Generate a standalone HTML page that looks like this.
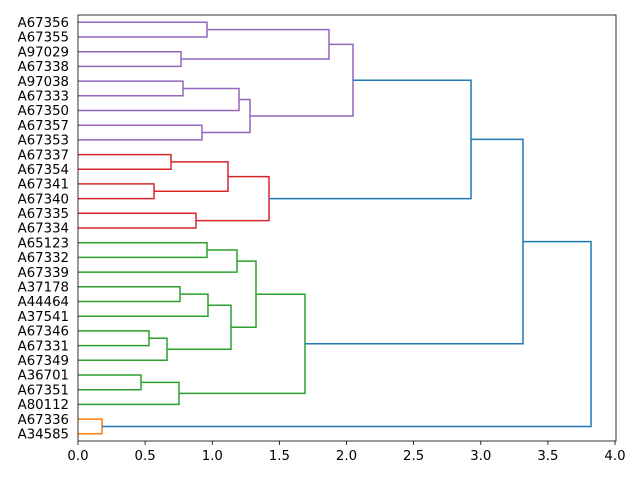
<!DOCTYPE html>
<html><head><meta charset="utf-8"><style>
body{margin:0;background:#fff}
svg text{font-family:"DejaVu Sans","Liberation Sans",sans-serif;font-size:13.3px;fill:#000}
</style></head><body>
<svg width="640" height="480" xmlns="http://www.w3.org/2000/svg">
<rect width="640" height="480" fill="#fff"/>
<g fill="none" stroke-width="1.5">
<g stroke="#9467bd">
<path d="M78 22.3H207V37H78"/>
<path d="M78 51.7H181V66.4H78"/>
<path d="M207 29.65H329V59.05H181"/>
<path d="M78 81.1H183V95.8H78"/>
<path d="M183 88.45H239V110.5H78"/>
<path d="M78 125.2H202V139.9H78"/>
<path d="M239 99.48H250V132.55H202"/>
<path d="M329 44.35H353V116H250"/>
</g>
<g stroke="#d62728">
<path d="M78 154.6H171V169.2H78"/>
<path d="M78 183.9H154V198.6H78"/>
<path d="M171 161.9H228V191.25H154"/>
<path d="M78 213.3H196V228H78"/>
<path d="M228 176.6H269V220.65H196"/>
</g>
<g stroke="#2ca02c">
<path d="M78 242.7H207V257.4H78"/>
<path d="M207 250.05H237V272.1H78"/>
<path d="M78 286.8H180V301.5H78"/>
<path d="M180 294.15H208V316.2H78"/>
<path d="M78 330.9H149V345.6H78"/>
<path d="M149 338.25H167V360.3H78"/>
<path d="M208 305.2H231V349.3H167"/>
<path d="M237 261.1H256V327.25H231"/>
<path d="M78 375H141V389.7H78"/>
<path d="M141 382.35H179V404.4H78"/>
<path d="M256 294.2H305V393.4H179"/>
</g>
<path stroke="#ff7f0e" d="M78 419.1H102V433.8H78"/>
<g stroke="#1f77b4">
<path d="M353 80.2H471V198.6H269"/>
<path d="M471 139.4H523V343.8H305"/>
<path d="M523 241.6H591V426.45H102"/>
</g>
</g>
<rect x="78" y="15" width="538" height="426" fill="none" stroke="#000" stroke-width="0.8"/>
<g stroke="#000" stroke-width="0.8">
<path d="M78 441v4M145.1 441v4M212.3 441v4M279.4 441v4M346.5 441v4M413.6 441v4M480.8 441v4M547.9 441v4M615 441v4"/>
</g>
<g text-anchor="middle">
<text x="78" y="460">0.0</text><text x="145.1" y="460">0.5</text><text x="212.3" y="460">1.0</text><text x="279.4" y="460">1.5</text><text x="346.5" y="460">2.0</text><text x="413.6" y="460">2.5</text><text x="480.8" y="460">3.0</text><text x="547.9" y="460">3.5</text><text x="615" y="460">4.0</text>
</g>
<g text-anchor="end">
<text x="69" y="27">A67356</text>
<text x="69" y="41.7">A67355</text>
<text x="69" y="56.4">A97029</text>
<text x="69" y="71.1">A67338</text>
<text x="69" y="85.8">A97038</text>
<text x="69" y="100.5">A67333</text>
<text x="69" y="115.2">A67350</text>
<text x="69" y="129.9">A67357</text>
<text x="69" y="144.6">A67353</text>
<text x="69" y="159.3">A67337</text>
<text x="69" y="173.9">A67354</text>
<text x="69" y="188.6">A67341</text>
<text x="69" y="203.3">A67340</text>
<text x="69" y="218">A67335</text>
<text x="69" y="232.7">A67334</text>
<text x="69" y="247.4">A65123</text>
<text x="69" y="262.1">A67332</text>
<text x="69" y="276.8">A67339</text>
<text x="69" y="291.5">A37178</text>
<text x="69" y="306.2">A44464</text>
<text x="69" y="320.9">A37541</text>
<text x="69" y="335.6">A67346</text>
<text x="69" y="350.3">A67331</text>
<text x="69" y="365">A67349</text>
<text x="69" y="379.7">A36701</text>
<text x="69" y="394.4">A67351</text>
<text x="69" y="409.1">A80112</text>
<text x="69" y="423.8">A67336</text>
<text x="69" y="438.5">A34585</text>
</g>
</svg>
</body></html>
